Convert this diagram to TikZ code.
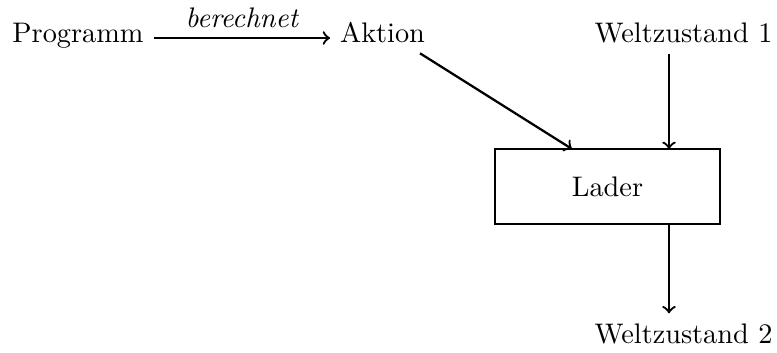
\documentclass[tikz,border=0pt]{standalone}
\begin{document}
\begin{tikzpicture}[x=0.3534pt,y=-0.3534pt,
  lbl/.style={anchor=base},
  arr/.style={->, thick},
  boxnode/.style={draw, minimum width=79.5pt, minimum height=26.5pt}]
\useasboundingbox (0,0) rectangle (777,353);
\node[lbl] (prog) at (78,43) {Programm};
\node[lbl] (akt) at (382.5,43) {Aktion};
\node[lbl] (w1) at (683.5,43) {Weltzustand 1};
\node[lbl] (w2) at (683.5,343) {Weltzustand 2};
\node[boxnode] (lader) at (607.5,186.5) {Lader};
\coordinate (la) at (572,149);
\coordinate (lb) at (669,149);
\coordinate (lc) at (669,224);
\draw[arr] (prog.east |- 0,38) -- node[above] {\itshape berechnet} (akt.west |- 0,38);
\draw[arr] (akt.south -| 420,0) -- (la);
\draw[arr] (w1.south -| lb) -- (lb);
\draw[arr] (lc) -- (w2.north -| lc);
\end{tikzpicture}
\end{document}
